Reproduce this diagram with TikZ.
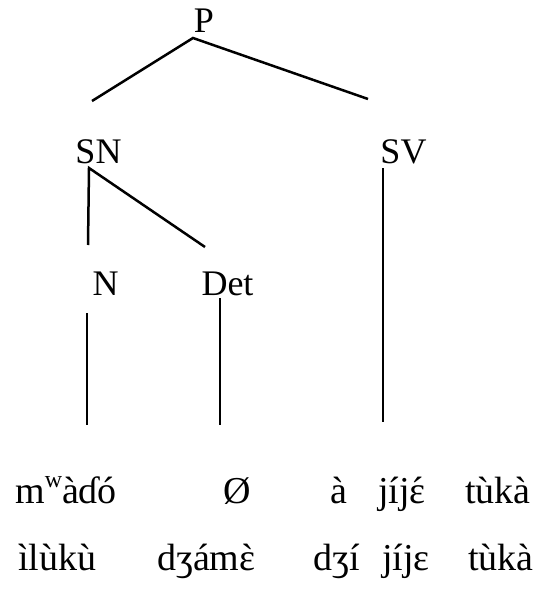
\documentclass[tikz,border=0pt]{standalone}
\usepackage{fontspec}
\setmainfont{Liberation Serif}[Ligatures=TeXOff]
\newcommand{\accov}[2]{\leavevmode\setbox0\hbox{#1}\rlap{\hbox to\wd0{\hss#2\hss}}#1}
\newcommand{\epsac}{\accov{ɛ}{\char"00B4}}
\newcommand{\epsgr}{\accov{ɛ}{\char"0060}}
\begin{document}
\begin{tikzpicture}[x=1pt,y=-1pt,
  lbl/.style={inner sep=0pt, anchor=base, font=\fontsize{36}{40}\selectfont},
  word/.style={inner sep=0pt, anchor=base west, font=\fontsize{38}{40}\selectfont},
  wordr/.style={word, anchor=base east},
  branch/.style={line width=2.5pt}]
\useasboundingbox (0,0) rectangle (542,591);
% category labels
\node[lbl] (P)   at (204,33)  {P};
\node[lbl] (SN)  at (98.5,163) {SN};
\node[lbl] (SV)  at (403.5,163) {SV};
\node[lbl] (N)   at (105.5,295) {N};
\node[lbl] (Det) at (227.5,295) {Det};
% branch end points
\coordinate (P-foot)   at (193,38);
\coordinate (SN-head)  at (92,101);
\coordinate (SV-head)  at (368,99);
\coordinate (SN-foot)  at (89,168);
\coordinate (SN-down)  at (88,245);
\coordinate (SN-diag)  at (205,247);
\coordinate (SV-foot)  at (383,168);
\coordinate (SV-end)   at (383,422);
\coordinate (N-foot)   at (87,313);
\coordinate (N-end)    at (87,425);
\coordinate (Det-foot) at (220,298);
\coordinate (Det-end)  at (220,425);
\draw[branch] (SN-head) -- (P-foot) -- (SV-head);
\draw[branch] (SN-down) -- (SN-foot) -- (SN-diag);
\draw[branch] (SV-foot) -- (SV-end);
\draw[branch] (N-foot) -- (N-end);
\draw[branch] (Det-foot) -- (Det-end);
% first text line
\node[word]  (w1) at (15,503)  {m\raisebox{0.42em}{\fontsize{24}{24}\selectfont w}àɗó};
\node[word]  (w2) at (223,503) {Ø};
\node[word]  (w3) at (330,503) {à};
\node[word]  (w4) at (378,503) {jíj\epsac};
\node[wordr] (w5) at (531,503) {tùkà};
% second text line
\node[word]  (v1) at (18,570)  {ìlùkù};
\node[word]  (v2) at (157,570) {dʒám\epsgr};
\node[word]  (v3) at (313,570) {dʒí};
\node[word]  (v4) at (382,570) {jíjɛ};
\node[wordr] (v5) at (534,570) {tùkà};
\end{tikzpicture}
\end{document}
